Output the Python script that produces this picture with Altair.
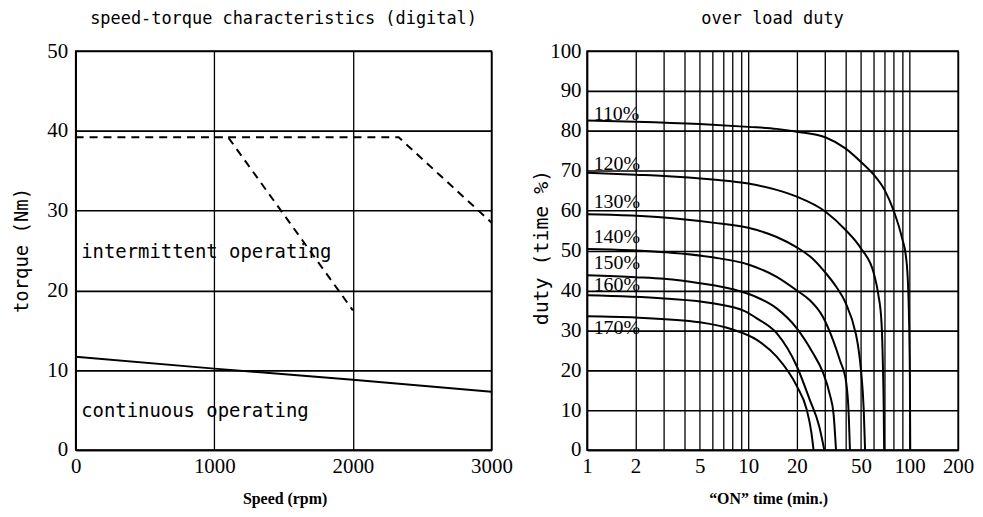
import altair as alt
import pandas as pd

# ---------------- left panel: speed-torque ----------------
speed_cont = [0, 1000, 2000, 3000]
torque_cont = [11.7, 10.2, 8.8, 7.3]

speed_int_a = [0, 1100, 2000]
torque_int_a = [39.2, 39.2, 17.5]

speed_int_b = [1100, 2330, 3000]
torque_int_b = [39.2, 39.2, 28.5]

region_labels = ["intermittent operating", "continuous operating"]
region_speed = [40, 40]
region_torque = [24.8, 4.9]

speed_ticks = [0, 1000, 2000, 3000]
torque_ticks = [0, 10, 20, 30, 40, 50]

# ---------------- right panel: over load duty ----------------
t110 = [1, 2, 5, 10, 15, 20, 30, 40, 50, 60, 70, 80, 90, 95, 97, 99, 100.5, 101]
d110 = [82.6, 82.3, 81.7, 81.0, 80.5, 79.8, 78.4, 75.6, 72.2, 69.0, 65.2, 59.8, 53.0, 48.5, 44.5, 35.0, 18.0, 0]

t120 = [1, 2, 3, 6, 10, 15, 20, 30, 40, 50, 60, 64, 67, 68.3, 69.2, 69.6]
d120 = [69.5, 69.0, 68.7, 67.8, 66.8, 65.2, 63.5, 59.8, 55.2, 50.5, 44.3, 39.0, 32.0, 22.0, 10.0, 0]

t130 = [1, 3, 6, 10, 15, 20, 25, 30, 35, 40, 46.5, 48, 50, 52, 53]
d130 = [59.1, 58.3, 57.0, 55.7, 53.4, 50.8, 48.0, 44.5, 41.0, 37.0, 29.0, 26.0, 20.0, 10.0, 0]

t140 = [1, 3, 6, 10, 15, 20, 24, 29, 33.5, 37, 40.5, 42, 42.7]
d140 = [50.4, 49.6, 48.3, 46.5, 43.4, 40.0, 37.6, 33.4, 27.6, 22.5, 16.9, 8.5, 0]

t150 = [1, 2, 3, 5, 8, 11, 15, 20, 25, 29, 32, 33.8, 35]
d150 = [43.8, 43.3, 42.9, 41.8, 40.3, 38.5, 35.5, 30.5, 24.5, 19.5, 14.0, 9.0, 0]

t160 = [1, 3, 6, 9.5, 11.3, 15, 20, 24, 27.5, 29.6]
d160 = [38.8, 38.0, 36.8, 34.8, 33.0, 29.3, 21.0, 12.7, 6.0, 0]

t170 = [1, 2, 5, 8, 11.3, 15, 20, 23, 24.6, 25.4]
d170 = [33.5, 33.2, 32.0, 30.2, 27.6, 23.4, 16.0, 10.2, 4.5, 0]

pct_labels = ["110%", "120%", "130%", "140%", "150%", "160%", "170%"]
pct_label_time = [1.10, 1.10, 1.10, 1.10, 1.10, 1.10, 1.10]
pct_label_duty = [84.2, 71.8, 62.1, 53.5, 46.9, 41.3, 30.5]

time_grid = [1, 2, 3, 4, 5, 6, 7, 8, 9, 10, 20, 30, 40, 50, 60, 70, 80, 90, 100, 200]
time_labels = [1, 2, 5, 10, 20, 50, 100, 200]
duty_ticks = [0, 10, 20, 30, 40, 50, 60, 70, 80, 90, 100]

# ---------------- data frames ----------------
cont_df = pd.DataFrame({"x": speed_cont, "y": torque_cont})
int_df = pd.concat([
    pd.DataFrame({"x": speed_int_a, "y": torque_int_a, "s": "a"}),
    pd.DataFrame({"x": speed_int_b, "y": torque_int_b, "s": "b"}),
])
region_df = pd.DataFrame({"x": region_speed, "y": region_torque, "t": region_labels})

curve_sets = [(t110, d110), (t120, d120), (t130, d130), (t140, d140),
              (t150, d150), (t160, d160), (t170, d170)]
curve_df = pd.concat([
    pd.DataFrame({"x": t, "y": d, "s": name})
    for name, (t, d) in zip(pct_labels, curve_sets)
])
pct_df = pd.DataFrame({"x": pct_label_time, "y": pct_label_duty, "t": pct_labels})

TICK_FONT = "Liberation Serif"
MONO = "DejaVu Sans Mono"

axis_common = dict(
    grid=True, gridColor="black", gridOpacity=1, domainColor="black", domainWidth=1.5,
    ticks=False, labelFont=TICK_FONT, labelFontSize=21, labelColor="black",
    labelFlush=False, labelOverlap=False, titleColor="black",
)

# ---------------- left chart ----------------
lx = alt.X("x:Q", scale=alt.Scale(domain=[0, 3000], nice=False, zero=False),
           axis=alt.Axis(values=speed_ticks, format="d", labelPadding=6,
                         title="Speed (rpm)", titleFont=TICK_FONT, titleFontWeight="bold",
                         titleFontSize=16, titleX=210, titleY=49, titleBaseline="middle",
                         titleAlign="center", gridWidth=1.3, **axis_common))
ly = alt.Y("y:Q", scale=alt.Scale(domain=[0, 50], nice=False),
           axis=alt.Axis(values=torque_ticks, format="d", labelPadding=8,
                         title="torque (Nm)", titleFont=MONO, titleFontWeight="normal",
                         titleFontSize=19, titleAngle=-90, titleX=-54, titleY=200,
                         titleBaseline="middle", titleAlign="center", gridWidth=1.6,
                         **axis_common))

left_cont = alt.Chart(cont_df).mark_line(color="black", strokeWidth=2).encode(x=lx, y=ly)
left_int = alt.Chart(int_df).mark_line(color="black", strokeWidth=2, strokeDash=[8, 6]).encode(
    x=lx, y=ly, detail="s:N")
left_text = alt.Chart(region_df).mark_text(
    align="left", baseline="middle", font=MONO, fontSize=19, color="black").encode(
    x=lx, y=ly, text="t:N")

left = alt.layer(left_cont, left_int, left_text).properties(
    width=418, height=401,
    title=alt.TitleParams("speed-torque characteristics (digital)", font=MONO, fontSize=17,
                          fontWeight="normal", color="black", offset=12),
)

# ---------------- right chart ----------------
label_expr = "indexof([1,2,5,10,20,50,100,200], datum.value) >= 0 ? format(datum.value, 'd') : ''"
rx = alt.X("x:Q", scale=alt.Scale(type="log", domain=[1, 200], nice=False),
           axis=alt.Axis(values=time_grid, labelExpr=label_expr, labelPadding=6,
                         title="\u201cON\u201d time (min.)", titleFont=TICK_FONT,
                         titleFontWeight="bold", titleFontSize=16, titleX=182, titleY=49,
                         titleBaseline="middle", titleAlign="center", gridWidth=1.3,
                         **axis_common))
ry = alt.Y("y:Q", scale=alt.Scale(domain=[0, 100], nice=False),
           axis=alt.Axis(values=duty_ticks, format="d", labelPadding=6,
                         title="duty (time %)", titleFont=MONO, titleFontWeight="normal",
                         titleFontSize=20, titleAngle=-90, titleX=-46, titleY=197,
                         titleBaseline="middle", titleAlign="center", gridWidth=1.6,
                         **axis_common))

right_curves = alt.Chart(curve_df).mark_line(
    color="black", strokeWidth=2, interpolate="monotone").encode(
    x=rx, y=ry, detail="s:N", order="x:Q")
right_text = alt.Chart(pct_df).mark_text(
    align="left", baseline="middle", font=TICK_FONT, fontSize=20, color="black").encode(
    x=rx, y=ry, text="t:N")

right = alt.layer(right_curves, right_text).properties(
    width=373, height=401,
    title=alt.TitleParams("over load duty", font=MONO, fontSize=17,
                          fontWeight="normal", color="black", offset=12),
)

chart = alt.hconcat(left, right, spacing=17).properties(
    padding={"left": 4, "top": 0, "right": 0, "bottom": 0},
    background="white",
).configure_view(stroke="black", strokeWidth=1.5)

chart.save("out.html", embed_options={"renderer": "svg", "actions": False})
